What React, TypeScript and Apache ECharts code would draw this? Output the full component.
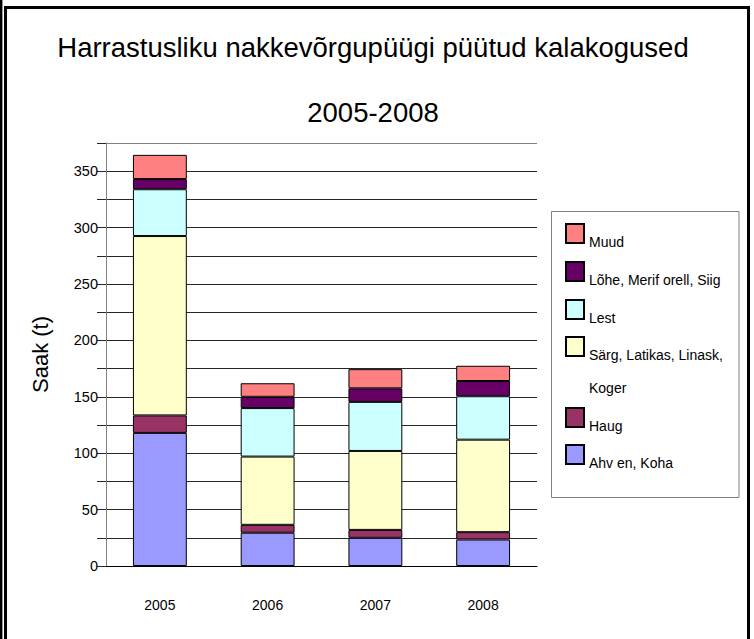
import React, { useEffect, useRef } from "react";
import * as echarts from "echarts";

const categories = ["2005", "2006", "2007", "2008"];
const seriesNames = ["Ahv en, Koha", "Haug", "Särg, Latikas, Linask, Koger", "Lest", "Lõhe, Merif orell, Siig", "Muud"];
const ahven = [118, 29.5, 25, 23.5];
const haug = [15.5, 7, 7, 6.5];
const sarg = [159, 60.5, 70, 82];
const lest = [41.5, 43, 43.5, 38.5];
const lohe = [9, 10, 12, 13.5];
const muud = [21.5, 12, 17, 13.5];
const seriesValues = [ahven, haug, sarg, lest, lohe, muud];
const seriesColors = ["#9999FF", "#993366", "#FFFFCC", "#CCFFFF", "#660066", "#FF8080"];
const yTicks = [0, 50, 100, 150, 200, 250, 300, 350];

// legend rows top-down: [series index, square top]
const legendRows: [number, number][] = [
  [5, 224],
  [4, 262],
  [3, 300],
  [2, 337],
  [1, 408],
  [0, 445],
];

export default function App() {
  const ref = useRef<HTMLDivElement>(null);
  useEffect(() => {
    if (!ref.current) return;
    const chart = echarts.init(ref.current, undefined, { renderer: "svg" });
    const font = "'Liberation Sans', Arial, sans-serif";
    const gridColors: string[] = [];
    for (let i = 0; i < 16; i++) gridColors.push(i === 15 ? "#808080" : "#262626");

    const legends = legendRows.map(([si, top]) => {
      const twoLine = si === 2;
      return {
        orient: "vertical",
        left: 565,
        top: twoLine ? top - 40 : top - 6.5,
        padding: 0,
        icon: "rect",
        itemWidth: 18,
        itemHeight: 19,
        selectedMode: false,
        data: [seriesNames[si]],
        formatter: (name: string) =>
          twoLine ? "\n\n\nSärg, Latikas, Linask,\n\nKoger" : "\n" + name,
        textStyle: {
          fontFamily: font,
          fontSize: 14,
          color: "#000",
          lineHeight: twoLine ? 16.5 : 16,
        },
      };
    });

    chart.setOption({
      animation: false,
      backgroundColor: "#fff",
      textStyle: { fontFamily: font },
      title: {
        text: "Harrastusliku nakkevõrgupüügi püütud kalakogused\n2005-2008",
        left: 373,
        top: 15,
        padding: 0,
        textAlign: "center",
        textStyle: {
          fontFamily: font,
          fontSize: 27.5,
          fontWeight: "normal",
          color: "#000",
          lineHeight: 65,
        },
      },
      legend: legends,
      grid: { left: 106, right: 217, top: 143, bottom: 73 },
      xAxis: {
        type: "category",
        data: categories,
        axisLine: { lineStyle: { color: "#000", width: 1 } },
        axisTick: { length: 11, lineStyle: { color: "#000" } },
        axisLabel: { fontSize: 14, color: "#000", margin: 32 },
      },
      yAxis: {
        type: "value",
        min: 0,
        max: 375,
        interval: 25,
        name: "Saak (t)",
        nameLocation: "middle",
        nameGap: 55,
        nameTextStyle: { fontSize: 22, color: "#000" },
        axisLine: { show: true, lineStyle: { color: "#808080" } },
        axisTick: { show: true, length: 9, lineStyle: { color: "#262626" } },
        axisLabel: {
          fontSize: 14.5,
          color: "#000",
          margin: 8,
          formatter: (v: number) => (yTicks.includes(v) ? String(v) : ""),
        },
        splitLine: { show: true, lineStyle: { color: gridColors, width: 1 } },
      },
      graphic: [
        {
          type: "rect",
          shape: { x: 551.5, y: 211.5, width: 187.5, height: 286 },
          style: { fill: "none", stroke: "#808080", lineWidth: 1 },
          z: -1,
        },
        {
          type: "rect",
          shape: { x: 5.5, y: 7.5, width: 743, height: 700 },
          style: { fill: "none", stroke: "#000", lineWidth: 3 },
        },
        {
          type: "line",
          shape: { x1: 1.2, y1: 0, x2: 1.2, y2: 639 },
          style: { stroke: "#000", lineWidth: 2.4 },
        },
      ],
      series: seriesValues.map((vals, i) => ({
        name: seriesNames[i],
        type: "bar",
        stack: "total",
        barWidth: "50%",
        data: vals,
        itemStyle: { color: seriesColors[i], borderColor: "#000", borderWidth: 1 },
      })),
    });
    return () => chart.dispose();
  }, []);
  return (
    <div
      ref={ref}
      style={{ position: "absolute", left: 0, top: 0, width: 754, height: 639 }}
    />
  );
}
